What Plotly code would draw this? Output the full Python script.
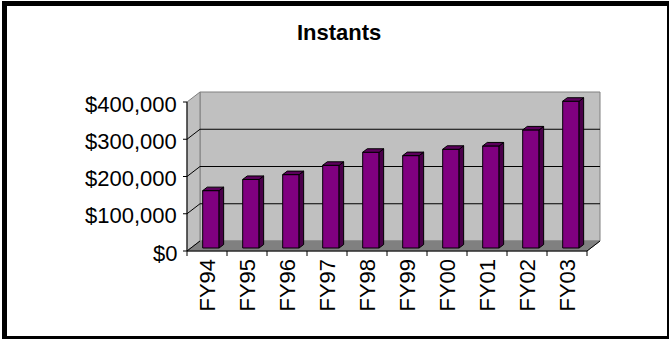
import plotly.graph_objects as go

# ---- data -------------------------------------------------------------
categories = ["FY94", "FY95", "FY96", "FY97", "FY98",
              "FY99", "FY00", "FY01", "FY02", "FY03"]
values = [154000, 184000, 197000, 222000, 257000,
          248000, 265000, 274000, 317000, 394000]
y_ticks = [0, 100000, 200000, 300000, 400000]
y_tick_labels = ["$0", "$100,000", "$200,000", "$300,000", "$400,000"]
title_text = "Instants"

# ---- geometry / style -------------------------------------------------
W, H = 670, 339
PX_X = 40.0            # pixels per category
PX_Y = 37.25 / 100000  # pixels per dollar
FRONT_LEFT_PX = 187.0  # left edge of the front plane
FRONT_ZERO_PX = 251.0  # baseline of the front plane
DEPTH_X = 13.0 / PX_X  # depth of the 3-D box, in axis units
DEPTH_Y = 10.0 / PX_Y
BAR_W = 0.41
BAR_F0 = 0.30          # depth of a bar's front face (fraction of box)
BAR_D = 0.35           # depth of a bar (fraction of box)
Y_MAX = y_ticks[-1]

FONT = "Liberation Sans, Arial, sans-serif"
FRONT = "#800080"
SIDE = "#4a004a"
TOP = "#5c005c"
WALL = "#c0c0c0"
FLOOR = "#808080"

x0 = -0.5 - FRONT_LEFT_PX / PX_X
x1 = x0 + W / PX_X
y1 = FRONT_ZERO_PX / PX_Y
y0 = y1 - H / PX_Y

n = len(categories)
xl_box, xr_box = -0.5, n - 0.5

fig = go.Figure()
shapes = []


def poly(pts):
    return "M " + " L ".join(f"{x},{y}" for x, y in pts) + " Z"


# back wall, side wall, floor
shapes.append(dict(type="path", xref="x", yref="y", layer="below",
                   path=poly([(xl_box + DEPTH_X, DEPTH_Y), (xr_box + DEPTH_X, DEPTH_Y),
                              (xr_box + DEPTH_X, Y_MAX + DEPTH_Y), (xl_box + DEPTH_X, Y_MAX + DEPTH_Y)]),
                   fillcolor=WALL, line=dict(color="#808080", width=1)))
shapes.append(dict(type="path", xref="x", yref="y", layer="below",
                   path=poly([(xl_box, 0), (xl_box + DEPTH_X, DEPTH_Y),
                              (xl_box + DEPTH_X, Y_MAX + DEPTH_Y), (xl_box, Y_MAX)]),
                   fillcolor=WALL, line=dict(color="#808080", width=1)))
shapes.append(dict(type="path", xref="x", yref="y", layer="below",
                   path=poly([(xl_box, 0), (xr_box, 0),
                              (xr_box + DEPTH_X, DEPTH_Y), (xl_box + DEPTH_X, DEPTH_Y)]),
                   fillcolor=FLOOR, line=dict(color="#808080", width=1)))

# gridlines on the walls
for t in y_ticks[1:-1]:
    shapes.append(dict(type="line", xref="x", yref="y", layer="below",
                       x0=xl_box + DEPTH_X, x1=xr_box + DEPTH_X, y0=t + DEPTH_Y, y1=t + DEPTH_Y,
                       line=dict(color="#000000", width=1)))
for t in y_ticks[:-1]:
    shapes.append(dict(type="line", xref="x", yref="y", layer="below",
                       x0=xl_box, x1=xl_box + DEPTH_X, y0=t, y1=t + DEPTH_Y,
                       line=dict(color="#000000", width=1)))

# value axis line and ticks
shapes.append(dict(type="line", xref="x", yref="y", x0=xl_box, x1=xl_box, y0=0, y1=Y_MAX,
                   line=dict(color="#000000", width=1)))
for t in y_ticks:
    shapes.append(dict(type="line", xref="x", yref="y", x0=xl_box - 4 / PX_X, x1=xl_box,
                       y0=t, y1=t, line=dict(color="#000000", width=1)))

# category axis line, ticks and floor edge
shapes.append(dict(type="line", xref="x", yref="y", x0=xl_box, x1=xr_box, y0=0, y1=0,
                   line=dict(color="#000000", width=1)))
shapes.append(dict(type="line", xref="x", yref="y", x0=xr_box, x1=xr_box + DEPTH_X,
                   y0=0, y1=DEPTH_Y, line=dict(color="#000000", width=1)))
for k in range(n + 1):
    shapes.append(dict(type="line", xref="x", yref="y", x0=k - 0.5, x1=k - 0.5,
                       y0=0, y1=-5 / PX_Y, line=dict(color="#000000", width=1)))

# front faces of the columns
xs = list(range(n))
fig.add_trace(go.Bar(
    x=[i + BAR_F0 * DEPTH_X for i in xs], y=values, base=BAR_F0 * DEPTH_Y,
    width=BAR_W, marker=dict(color=FRONT, line=dict(color="#000000", width=1)),
    hoverinfo="skip", showlegend=False))

# top and side faces of the columns
for i, v in zip(xs, values):
    fx_l = i - BAR_W / 2 + BAR_F0 * DEPTH_X
    fx_r = i + BAR_W / 2 + BAR_F0 * DEPTH_X
    fy_b = BAR_F0 * DEPTH_Y
    fy_t = v + fy_b
    dx, dy = BAR_D * DEPTH_X, BAR_D * DEPTH_Y
    side = [(fx_r, fy_b), (fx_r, fy_t), (fx_r + dx, fy_t + dy), (fx_r + dx, fy_b + dy), (fx_r, fy_b)]
    top = [(fx_l, fy_t), (fx_r, fy_t), (fx_r + dx, fy_t + dy), (fx_l + dx, fy_t + dy), (fx_l, fy_t)]
    for pts, col in ((side, SIDE), (top, TOP)):
        fig.add_trace(go.Scatter(
            x=[p[0] for p in pts], y=[p[1] for p in pts], mode="lines",
            fill="toself", fillcolor=col, line=dict(color="#000000", width=1),
            hoverinfo="skip", showlegend=False))

annotations = []
for t, lab in zip(y_ticks, y_tick_labels):
    annotations.append(dict(x=xl_box, y=t, xref="x", yref="y", text=lab, showarrow=False,
                            xanchor="right", yanchor="middle", xshift=-8, yshift=-2,
                            font=dict(family=FONT, size=22, color="#000000")))
for i, c in zip(xs, categories):
    annotations.append(dict(x=i, y=0, xref="x", yref="y", text=c, showarrow=False,
                            textangle=-90, xanchor="center", yanchor="top", yshift=-6,
                            font=dict(family=FONT, size=22, color="#000000")))
annotations.append(dict(x=339 / W, y=1 - 32.5 / H, xref="paper", yref="paper",
                        text=f"<b>{title_text}</b>", showarrow=False,
                        xanchor="center", yanchor="middle",
                        font=dict(family=FONT, size=22, color="#000000")))

# chart frame
frame = [(2, 1, 7, 339), (2, 1, 669, 6), (2, 336, 669, 339), (667, 1, 669, 339)]
for a, b, c, d in frame:
    shapes.append(dict(type="rect", xref="paper", yref="paper",
                       x0=a / W, x1=c / W, y0=1 - d / H, y1=1 - b / H,
                       fillcolor="#000000", line=dict(width=0)))

fig.update_layout(
    width=W, height=H, margin=dict(l=0, r=0, t=0, b=0),
    paper_bgcolor="#ffffff", plot_bgcolor="rgba(0,0,0,0)",
    xaxis=dict(range=[x0, x1], visible=False, fixedrange=True),
    yaxis=dict(range=[y0, y1], visible=False, fixedrange=True),
    barmode="overlay", shapes=shapes, annotations=annotations,
)

fig.write_html("out.html")
